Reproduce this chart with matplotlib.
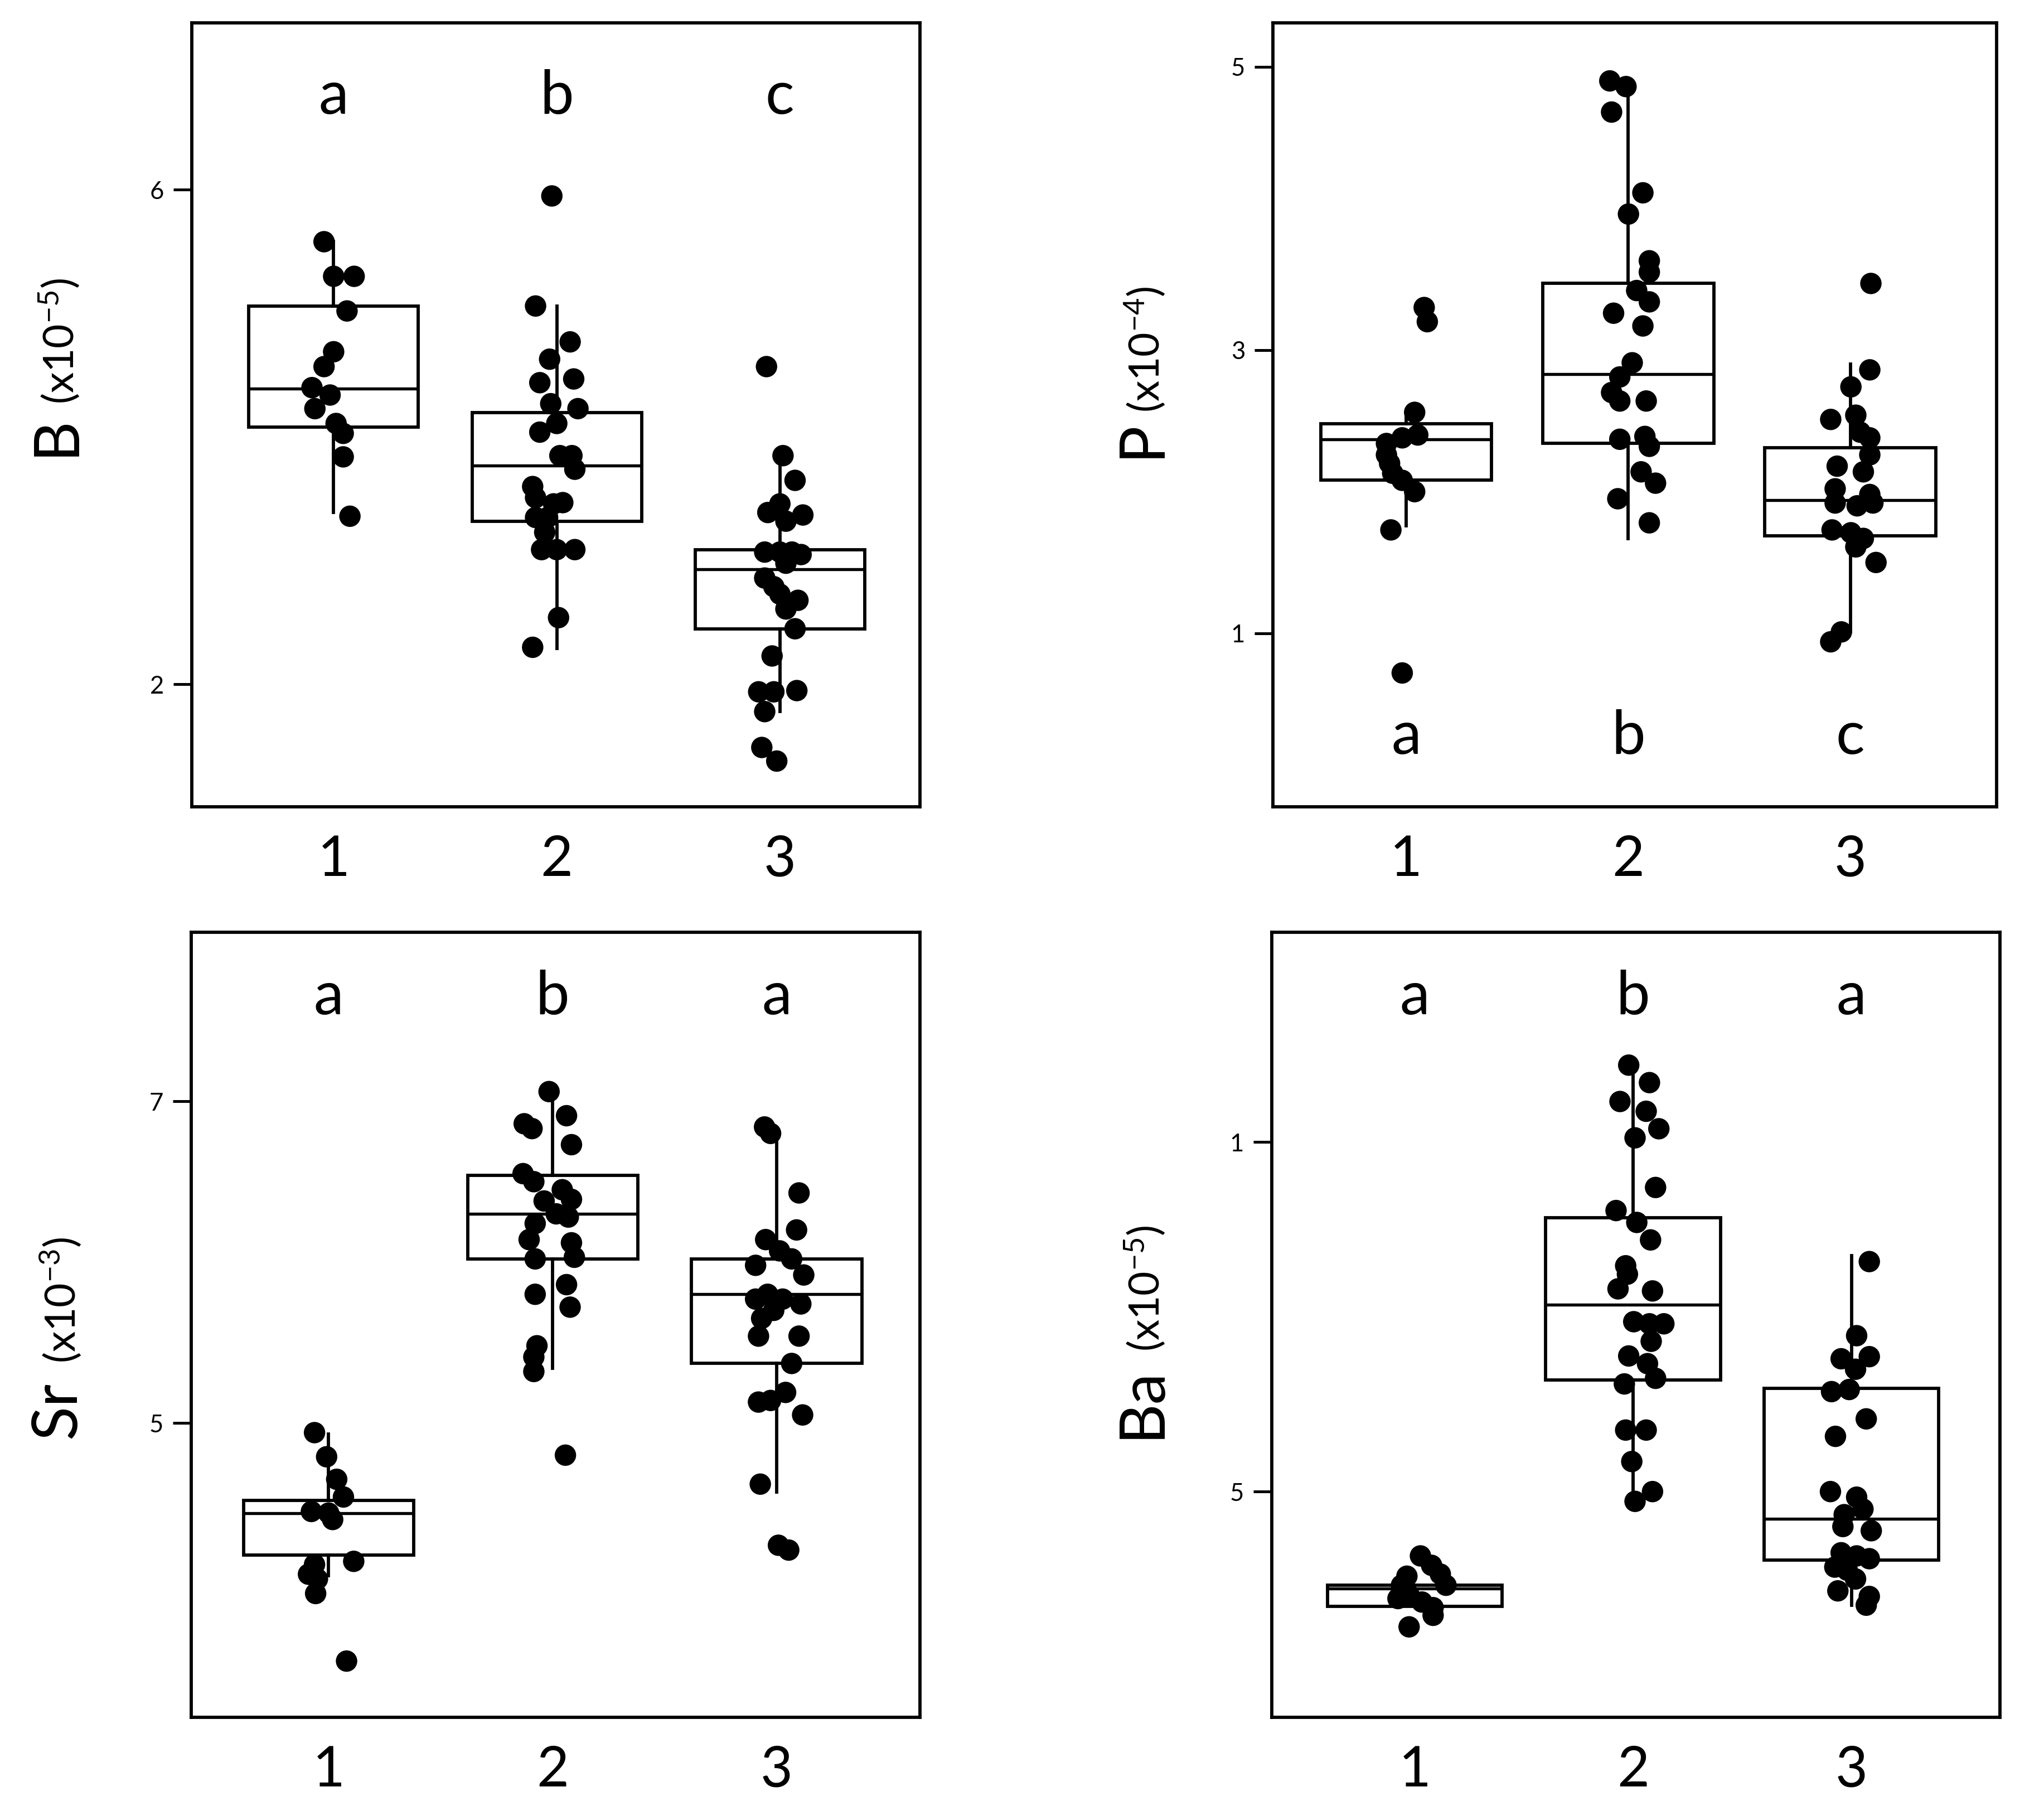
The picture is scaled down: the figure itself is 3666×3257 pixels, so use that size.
import matplotlib
matplotlib.use("Agg")
import matplotlib.pyplot as plt

plt.rcParams['font.family'] = ['Lato', 'DejaVu Sans']
plt.rcParams['mathtext.fontset'] = 'custom'
plt.rcParams['mathtext.rm'] = 'Lato'
plt.rcParams['mathtext.it'] = 'Lato'
plt.rcParams['mathtext.bf'] = 'Lato'

groups = [1, 2, 3]

################################ B (x10-5) ################################
B_y = [
    [5.58, 5.30, 5.30, 5.02, 4.69, 4.57, 4.40, 4.34, 4.23, 4.11, 4.03, 3.84, 3.36],
    [5.95, 5.06, 4.77, 4.63, 4.44, 4.47, 4.27, 4.23, 4.11, 4.04, 3.85, 3.85, 3.74,
     3.60, 3.51, 3.46, 3.47, 3.35, 3.35, 3.23, 3.09, 3.09, 3.09, 2.54, 2.30],
    [4.57, 3.85, 3.65, 3.46, 3.39, 3.37, 3.32, 3.07, 3.07, 3.07, 3.05, 2.98, 2.86,
     2.79, 2.73, 2.68, 2.61, 2.45, 2.23, 1.94, 1.94, 1.95, 1.78, 1.49, 1.38],
]
B_dx = [
    [-0.043, 0.0, 0.092, 0.060, 0.0, -0.043, -0.097, -0.016, -0.084, 0.011, 0.043, 0.043, 0.073],
    [-0.022, -0.095, 0.060, -0.032, -0.076, 0.076, -0.027, 0.095, 0.0, -0.076, 0.014, 0.068, 0.081,
     -0.108, -0.095, -0.014, 0.027, -0.095, -0.041, -0.054, -0.068, 0.0, 0.081, 0.008, -0.108],
    [-0.060, 0.014, 0.068, 0.0, -0.054, 0.103, 0.027, -0.068, 0.0, 0.054, 0.095, 0.027, -0.068,
     -0.027, 0.0, 0.081, 0.027, 0.068, -0.035, -0.095, -0.027, 0.076, -0.068, -0.081, -0.014],
]
B_q1 = [4.08, 3.32, 2.45]
B_med = [4.39, 3.77, 2.93]
B_q3 = [5.06, 4.20, 3.09]
B_wlo = [3.39, 2.29, 1.78]
B_whi = [5.58, 5.06, 3.81]
B_letters = ["a", "b", "c"]

################################ P (x10-4) ################################
P_y = [
    [0.72, 3.30, 3.20, 2.56, 2.40, 2.38, 2.34, 2.26, 2.20, 2.13, 2.08, 2.00, 1.73],
    [4.90, 4.86, 4.68, 4.11, 3.96, 3.63, 3.55, 3.42, 3.34, 3.26, 3.17, 2.91, 2.81,
     2.70, 2.64, 2.64, 2.37, 2.39, 2.32, 2.14, 2.06, 1.95, 1.78],
    [3.47, 2.86, 2.74, 2.51, 2.54, 2.42, 2.38, 2.26, 2.18, 2.14, 2.02, 1.98, 1.92,
     1.92, 1.90, 1.73, 1.71, 1.67, 1.61, 1.50, 1.01, 0.94],
]
P_dx = [
    [-0.018, 0.081, 0.095, 0.038, 0.052, -0.018, -0.089, -0.089, -0.075, -0.061, -0.018, 0.038, -0.069],
    [-0.083, -0.010, -0.075, 0.066, 0.001, 0.095, 0.095, 0.038, 0.095, -0.066, 0.066, 0.018, -0.038,
     -0.075, -0.038, 0.081, -0.038, 0.075, 0.095, 0.058, 0.123, -0.047, 0.095],
    [0.093, 0.088, 0.003, -0.088, 0.025, 0.045, 0.088, 0.088, -0.059, 0.059, -0.068, 0.088, -0.068,
     0.102, 0.031, -0.082, 0.003, 0.059, 0.025, 0.116, -0.040, -0.088],
]
P_q1 = [2.08, 2.34, 1.69]
P_med = [2.37, 2.83, 1.94]
P_q3 = [2.48, 3.47, 2.31]
P_wlo = [1.76, 1.67, 1.01]
P_whi = [2.56, 4.85, 2.90]
P_letters = ["a", "b", "c"]

################################ Sr (x10-3) ################################
Sr_y = [
    [4.94, 4.79, 4.65, 4.54, 4.45, 4.44, 4.40, 4.14, 4.12, 4.06, 4.03, 3.94, 3.52],
    [7.06, 6.91, 6.86, 6.83, 6.73, 6.55, 6.50, 6.45, 6.38, 6.39, 6.30, 6.28, 6.24,
     6.14, 6.12, 6.02, 6.03, 5.86, 5.80, 5.72, 5.48, 5.41, 5.32, 4.80],
    [6.84, 6.80, 6.43, 6.20, 6.14, 6.07, 5.98, 6.02, 5.92, 5.80, 5.77, 5.77, 5.74,
     5.70, 5.65, 5.54, 5.54, 5.37, 5.19, 5.13, 5.14, 5.05, 4.62, 4.24, 4.21],
]
Sr_dx = [
    [-0.063, -0.009, 0.036, 0.066, -0.077, 0.0, 0.018, 0.112, -0.063, -0.090, -0.050, -0.058, 0.080],
    [-0.016, 0.062, -0.127, -0.092, 0.084, -0.132, -0.084, 0.043, -0.038, 0.084, 0.016, 0.070, -0.078,
     -0.105, 0.084, -0.078, 0.097, 0.062, -0.078, 0.078, -0.070, -0.084, -0.084, 0.057],
    [-0.054, -0.027, 0.100, 0.089, -0.049, 0.013, -0.094, 0.067, 0.121, -0.040, -0.094, 0.027, 0.108,
     -0.013, -0.067, -0.081, 0.100, 0.067, 0.040, -0.081, -0.027, 0.116, -0.073, 0.008, 0.054],
]
Sr_q1 = [4.18, 6.02, 5.37]
Sr_med = [4.44, 6.30, 5.80]
Sr_q3 = [4.52, 6.54, 6.02]
Sr_wlo = [4.05, 5.34, 4.57]
Sr_whi = [4.93, 7.05, 6.83]
Sr_letters = ["a", "b", "a"]

################################ Ba (x10-5) ################################
Ba_y = [
    [0.408, 0.3945, 0.382, 0.366, 0.379, 0.366, 0.347, 0.352, 0.342, 0.334, 0.323, 0.3065],
    [1.11, 1.085, 1.058, 1.044, 1.019, 1.006, 0.935, 0.902, 0.885, 0.86, 0.823, 0.811, 0.79,
     0.787, 0.743, 0.74, 0.74, 0.715, 0.694, 0.683, 0.662, 0.654, 0.588, 0.588, 0.543, 0.50, 0.486],
    [0.829, 0.723, 0.69, 0.693, 0.675, 0.643, 0.646, 0.604, 0.579, 0.50, 0.492, 0.475, 0.467,
     0.45, 0.444, 0.4125, 0.408, 0.404, 0.392, 0.3875, 0.375, 0.358, 0.35, 0.3375],
]
Ba_dx = [
    [0.026, 0.077, 0.117, 0.143, -0.036, -0.061, -0.077, -0.026, 0.033, 0.084, 0.084, -0.026],
    [-0.020, 0.075, -0.060, 0.060, 0.118, 0.009, 0.103, -0.078, 0.017, 0.080, -0.034, -0.026, -0.069,
     0.089, 0.003, 0.075, 0.141, 0.083, -0.020, 0.066, 0.103, -0.040, -0.034, 0.060, -0.006, 0.089, 0.009],
    [0.082, 0.024, -0.047, 0.082, 0.019, -0.091, -0.010, 0.068, -0.073, -0.096, 0.024, 0.053, -0.033,
     -0.039, 0.091, -0.047, 0.024, 0.082, -0.076, -0.019, 0.019, -0.062, 0.082, 0.068],
]
Ba_q1 = [0.336, 0.660, 0.402]
Ba_med = [0.361, 0.767, 0.461]
Ba_q3 = [0.366, 0.892, 0.648]
Ba_wlo = [0.336, 0.483, 0.3375]
Ba_whi = [0.366, 1.108, 0.8375]
Ba_letters = ["a", "b", "a"]
Ba_ticks = [0.5, 1.0]
Ba_ticklabels = ["5", "1"]


def panel(ax, ys, dxs, q1, med, q3, wlo, whi, letters, letter_y, width, xlim, ylim, yticks, yticklabels=None):
    stats = []
    for i in range(3):
        stats.append({"q1": q1[i], "med": med[i], "q3": q3[i], "whislo": wlo[i], "whishi": whi[i], "fliers": []})
    ax.bxp(stats, positions=groups, widths=width, showcaps=False, showfliers=False, patch_artist=True,
           boxprops=dict(facecolor="white", edgecolor="black", linewidth=1.4),
           medianprops=dict(color="black", linewidth=1.3),
           whiskerprops=dict(color="black", linewidth=1.4), zorder=2)
    for i, g in enumerate(groups):
        ax.scatter([g + d for d in dxs[i]], ys[i], s=85, color="black", edgecolors="none", zorder=3)
        ax.text(g, letter_y, letters[i], transform=ax.get_xaxis_transform(), ha="center", va="baseline", fontsize=26)
    ax.set_xlim(xlim)
    ax.set_ylim(ylim)
    ax.set_xticks(groups)
    ax.set_xticklabels([str(g) for g in groups], fontsize=24)
    ax.tick_params(axis="x", length=0, pad=12)
    ax.set_yticks(yticks)
    if yticklabels is None:
        yticklabels = [str(t) for t in yticks]
    ax.set_yticklabels(yticklabels, fontsize=10.5)
    ax.tick_params(axis="y", length=8, width=1.2, pad=4)
    for sp in ax.spines.values():
        sp.set_linewidth(1.4)


fig = plt.figure(figsize=(12.22, 10.857), dpi=300)
axB = fig.add_axes([0.0938, 0.5557, 0.3563, 0.4317])
axP = fig.add_axes([0.6228, 0.5557, 0.3541, 0.4317])
axSr = fig.add_axes([0.0936, 0.0543, 0.3565, 0.4323])
axBa = fig.add_axes([0.6222, 0.0543, 0.3562, 0.4323])

panel(axB, B_y, B_dx, B_q1, B_med, B_q3, B_wlo, B_whi, B_letters, 0.884, 0.76, (0.364, 3.628), (1.01, 7.35), [2, 6])
panel(axP, P_y, P_dx, P_q1, P_med, P_q3, P_wlo, P_whi, P_letters, 0.068, 0.77, (0.40, 3.66), (-0.225, 5.31), [1, 3, 5])
panel(axSr, Sr_y, Sr_dx, Sr_q1, Sr_med, Sr_q3, Sr_wlo, Sr_whi, Sr_letters, 0.896, 0.76, (0.387, 3.64), (3.17, 8.05), [5, 7])
panel(axBa, Ba_y, Ba_dx, Ba_q1, Ba_med, Ba_q3, Ba_wlo, Ba_whi, Ba_letters, 0.896, 0.80, (0.345, 3.68), (0.177, 1.30),
      Ba_ticks, Ba_ticklabels)

# y labels: big element symbol + smaller scale factor
labels = [
    ("B", r"(x10$^{\mathregular{-5}}$)", 0.0363, 0.7489, 0.7774),
    ("P", r"(x10$^{\mathregular{-4}}$)", 0.5674, 0.7479, 0.7728),
    ("Sr", r"(x10$^{\mathregular{-3}}$)", 0.0368, 0.2079, 0.2493),
    ("Ba", r"(x10$^{\mathregular{-5}}$)", 0.5674, 0.2079, 0.2558),
]
for name, scale, x, y0, y1 in labels:
    fig.text(x, y0, name, rotation=90, rotation_mode="anchor", ha="left", va="baseline", fontsize=27)
    fig.text(x, y1, scale, rotation=90, rotation_mode="anchor", ha="left", va="baseline", fontsize=18)

plt.savefig("out.png", dpi=300)
plt.close()
